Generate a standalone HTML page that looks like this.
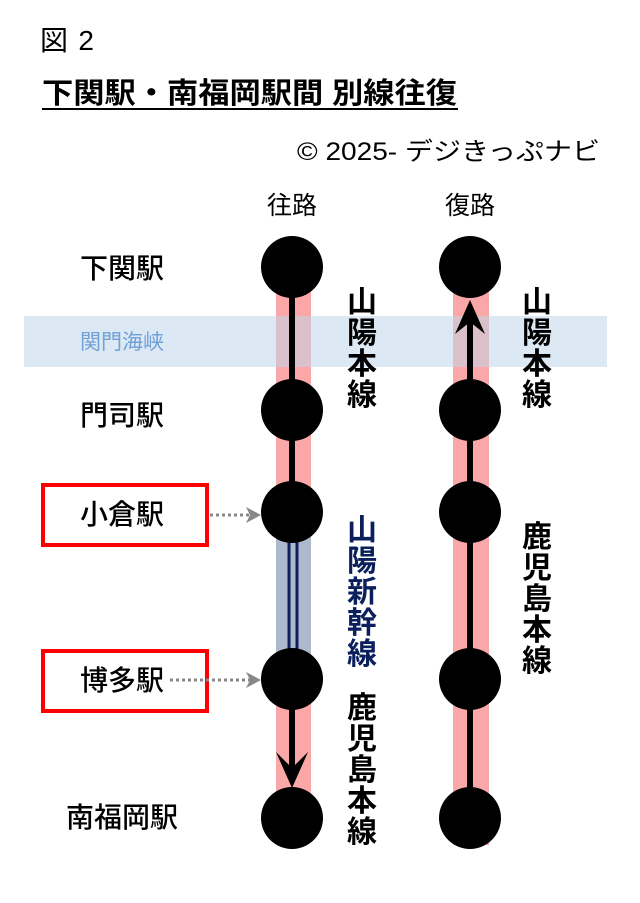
<!DOCTYPE html>
<html><head><meta charset="utf-8"><style>
body{margin:0;background:#fff;}
svg text{font-family:"Liberation Sans","Noto Sans CJK JP",sans-serif;}
</style></head><body>
<svg width="640" height="898" xmlns="http://www.w3.org/2000/svg">
<text x="40" y="50" font-size="28" textLength="54">図 2</text>
<text x="42" y="103" font-size="29" font-weight="bold" textLength="415" lengthAdjust="spacingAndGlyphs">下関駅・南福岡駅間 別線往復</text>
<line x1="42" y1="109" x2="458" y2="109" stroke="#000" stroke-width="2"/>
<text x="297" y="160" font-size="25" textLength="303" lengthAdjust="spacingAndGlyphs">© 2025- デジきっぷナビ</text>
<text x="292" y="214" font-size="25" text-anchor="middle">往路</text>
<text x="470" y="214" font-size="25" text-anchor="middle">復路</text>
<!-- bands -->
<rect x="276" y="267" width="35" height="245" fill="#f9a7a7"/>
<rect x="276" y="512" width="35" height="167" fill="#adb9cc"/>
<rect x="276" y="679" width="35" height="139" fill="#f9a7a7"/>
<rect x="453" y="267" width="36" height="578" fill="#f9a7a7"/>
<rect x="24" y="316" width="583" height="51" fill="#bfd5ea" opacity="0.55"/>
<text x="80" y="349" font-size="21" fill="#6fa0d8">関門海峡</text>
<!-- lines -->
<line x1="292" y1="267" x2="292" y2="512" stroke="#000" stroke-width="6"/>
<line x1="289" y1="512" x2="289" y2="679" stroke="#0a1f5c" stroke-width="3"/>
<line x1="297" y1="512" x2="297" y2="679" stroke="#0a1f5c" stroke-width="3"/>
<line x1="292" y1="679" x2="292" y2="770" stroke="#000" stroke-width="6"/>
<polygon points="276,752 292,788 308,752 292,768" fill="#000"/>
<line x1="470" y1="818" x2="470" y2="320" stroke="#000" stroke-width="6"/>
<polygon points="455,334 470,300 485,334 470,322" fill="#000"/>
<!-- nodes -->
<g fill="#000">
<circle cx="292" cy="267" r="31"/><circle cx="292" cy="410" r="31"/><circle cx="292" cy="512" r="31"/><circle cx="292" cy="679" r="31"/><circle cx="292" cy="818" r="31"/>
<circle cx="470" cy="267" r="31"/><circle cx="470" cy="410" r="31"/><circle cx="470" cy="512" r="31"/><circle cx="470" cy="679" r="31"/><circle cx="470" cy="818" r="31"/>
</g>
<!-- station labels -->
<g font-size="28" font-weight="500">
<text x="80" y="278">下関駅</text>
<text x="80" y="425">門司駅</text>
<text x="80" y="524">小倉駅</text>
<text x="80" y="690">博多駅</text>
<text x="66" y="827">南福岡駅</text>
</g>
<rect x="43" y="485" width="164" height="60" fill="none" stroke="#f00" stroke-width="4"/>
<rect x="43" y="651" width="164" height="60" fill="none" stroke="#f00" stroke-width="4"/>
<line x1="210" y1="515" x2="250" y2="515" stroke="#888" stroke-width="3" stroke-dasharray="3,3"/>
<polygon points="246,507 261,515 246,523 250,515" fill="#888"/>
<line x1="170" y1="680" x2="250" y2="680" stroke="#888" stroke-width="3" stroke-dasharray="3,3"/>
<polygon points="246,672 261,680 246,688 250,680" fill="#888"/>
<!-- vertical labels -->
<g font-size="30" text-anchor="middle" font-weight="bold">
<text x="362" y="312">山</text><text x="362" y="343">陽</text><text x="362" y="374">本</text><text x="362" y="405">線</text>
<text x="537" y="312">山</text><text x="537" y="343">陽</text><text x="537" y="374">本</text><text x="537" y="405">線</text>
<g fill="#0a1f5c"><text x="362" y="540">山</text><text x="362" y="571">陽</text><text x="362" y="602">新</text><text x="362" y="633">幹</text><text x="362" y="664">線</text></g>
<text x="362" y="718">鹿</text><text x="362" y="749">児</text><text x="362" y="780">島</text><text x="362" y="811">本</text><text x="362" y="842">線</text>
<text x="537" y="547">鹿</text><text x="537" y="578">児</text><text x="537" y="609">島</text><text x="537" y="640">本</text><text x="537" y="671">線</text>
</g>
</svg>
</body></html>
